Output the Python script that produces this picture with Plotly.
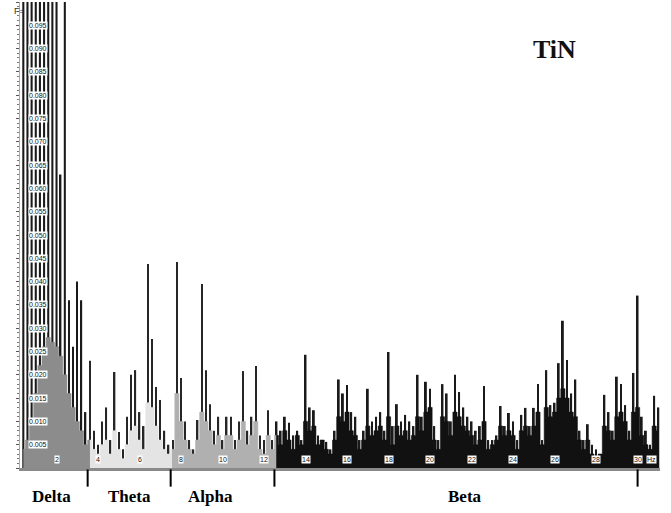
import plotly.graph_objects as go

# ---- data ----
freq_start = 0.4
freq_step = 0.2
peak_power = [
    0.15, 0.18, 0.16, 0.20, 0.17, 0.14, 0.12, 0.11, 0.13, 0.063,
    0.105, 0.036, 0.026, 0.040, 0.036, 0.012, 0.023, 0.008, 0.005, 0.010,
    0.013, 0.006, 0.0206, 0.0077, 0.004, 0.011, 0.020, 0.021, 0.012, 0.009,
    0.0438, 0.0277, 0.0174, 0.0146, 0.008, 0.005, 0.006, 0.0442, 0.0193, 0.010,
    0.006, 0.004, 0.0103, 0.0395, 0.021, 0.0137, 0.008, 0.011, 0.006, 0.011,
    0.011, 0.006, 0.010, 0.0208, 0.008, 0.011, 0.0219, 0.007, 0.006, 0.0124,
    0.006, 0.010, 0.008, 0.011, 0.0097, 0.007, 0.008, 0.006, 0.0243, 0.013,
    0.0124, 0.007, 0.006, 0.0056, 0.004, 0.008, 0.019, 0.016, 0.0178, 0.012,
    0.011, 0.006, 0.008, 0.017, 0.010, 0.011, 0.012, 0.008, 0.0249, 0.009,
    0.0137, 0.010, 0.0114, 0.010, 0.009, 0.020, 0.011, 0.0185, 0.017, 0.009,
    0.006, 0.018, 0.016, 0.010, 0.020, 0.0163, 0.013, 0.011, 0.010, 0.008,
    0.009, 0.0176, 0.006, 0.006, 0.007, 0.0133, 0.009, 0.0118, 0.010, 0.006,
    0.0114, 0.0129, 0.009, 0.0129, 0.018, 0.006, 0.021, 0.0135, 0.014, 0.0225,
    0.0316, 0.0232, 0.016, 0.019, 0.008, 0.006, 0.0094, 0.005, 0.004, 0.003,
    0.0157, 0.012, 0.008, 0.0196, 0.018, 0.0135, 0.008, 0.0204, 0.037, 0.011,
    0.008, 0.005, 0.0155, 0.013,
]
body_power = [
    0.004, 0.006, 0.010, 0.016, 0.022, 0.026, 0.028, 0.027, 0.026, 0.024,
    0.020, 0.016, 0.013, 0.010, 0.008, 0.005, 0.006, 0.004, 0.003, 0.005,
    0.006, 0.003, 0.008, 0.004, 0.002, 0.005, 0.008, 0.009, 0.006, 0.004,
    0.014, 0.013, 0.009, 0.006, 0.004, 0.003, 0.004, 0.016, 0.010, 0.006,
    0.004, 0.003, 0.006, 0.012, 0.010, 0.008, 0.005, 0.007, 0.004, 0.007,
    0.007, 0.004, 0.006, 0.010, 0.005, 0.007, 0.010, 0.004, 0.003, 0.007,
    0.004, 0.007, 0.005, 0.008, 0.006, 0.004, 0.007, 0.005, 0.010, 0.008,
    0.009, 0.005, 0.006, 0.004, 0.003, 0.006, 0.011, 0.010, 0.012, 0.008,
    0.007, 0.004, 0.006, 0.009, 0.007, 0.008, 0.009, 0.006, 0.011, 0.005,
    0.009, 0.007, 0.008, 0.006, 0.007, 0.011, 0.008, 0.012, 0.013, 0.006,
    0.004, 0.011, 0.010, 0.007, 0.012, 0.011, 0.009, 0.008, 0.007, 0.005,
    0.006, 0.010, 0.004, 0.005, 0.006, 0.009, 0.007, 0.008, 0.007, 0.004,
    0.008, 0.009, 0.007, 0.009, 0.012, 0.005, 0.013, 0.011, 0.012, 0.015,
    0.017, 0.015, 0.012, 0.011, 0.006, 0.004, 0.006, 0.003, 0.002, 0.003,
    0.009, 0.008, 0.006, 0.011, 0.012, 0.010, 0.006, 0.012, 0.013, 0.007,
    0.005, 0.004, 0.009, 0.008,
]
freqs = [round(freq_start + freq_step * i, 2) for i in range(len(peak_power))]

band_names = ["Delta", "Theta", "Alpha", "Beta"]
band_edges = [0.0, 3.5, 7.5, 12.5, 30.0]
band_label_x = [1.75, 5.5, 9.4, 21.7]
band_fill = ["#8c8c8c", "#e4e4e4", "#b0b0b0", "#111111"]
band_bar = ["#1a1a1a", "#262626", "#262626", "#1a1a1a"]

x_tick_vals = [2, 4, 6, 8, 10, 12, 14, 16, 18, 20, 22, 24, 26, 28, 30]
y_tick_vals = [round(0.005 * k, 3) for k in range(1, 20)]
title_text = "TiN"


def band_of(f):
    for b in range(len(band_names)):
        if f < band_edges[b + 1] or b == len(band_names) - 1:
            return b
    return len(band_names) - 1


fig = go.Figure()

# filled body per band
for b in range(len(band_names)):
    idx = [i for i, f in enumerate(freqs) if band_of(f) == b]
    if not idx:
        continue
    if idx[-1] + 1 < len(freqs):
        idx = idx + [idx[-1] + 1]
    fig.add_trace(go.Scatter(
        x=[freqs[i] for i in idx], y=[body_power[i] for i in idx],
        mode="lines", fill="tozeroy", fillcolor=band_fill[b],
        line=dict(color=band_fill[b], width=0.6, shape="hvh"), hoverinfo="skip",
        showlegend=False))

# spikes
widths = [0.1 if p > 0.1 else (0.09 if band_of(f) == 3 else 0.07)
          for f, p in zip(freqs, peak_power)]
colors = [band_bar[band_of(f)] for f in freqs]
fig.add_trace(go.Bar(x=freqs, y=peak_power, width=widths,
                     marker=dict(color=colors, line=dict(width=0)),
                     showlegend=False))

small_font = dict(size=7, family="Liberation Sans", color="#111")
annotations = []
for v in y_tick_vals:
    annotations.append(dict(x=0.028, xref="paper", y=v, yref="y",
                            text=f"{v:.3f}", showarrow=False, bgcolor="white",
                            font=small_font, borderpad=0,
                            xanchor="center", yanchor="middle"))
for v in x_tick_vals:
    annotations.append(dict(x=v, xref="x", y=0.018, yref="paper",
                            text=str(v), showarrow=False, bgcolor="white",
                            font=small_font, borderpad=0,
                            xanchor="center", yanchor="middle"))
annotations.append(dict(x=30.65, xref="x", y=0.018, yref="paper", text="Hz",
                        showarrow=False, bgcolor="white", font=small_font,
                        borderpad=0, xanchor="center", yanchor="middle"))
annotations.append(dict(x=-0.012, xref="paper", y=0.98, yref="paper", text="F=",
                        showarrow=False,
                        font=dict(size=9, family="Liberation Sans", color="#333"),
                        xanchor="left", yanchor="middle"))
for name, lx in zip(band_names, band_label_x):
    annotations.append(dict(x=lx, xref="x", y=-0.062, yref="paper", text=name,
                            showarrow=False, xanchor="center", yanchor="middle",
                            font=dict(size=17, family="Liberation Serif", color="black",
                                      weight="bold")))
annotations.append(dict(x=0.835, xref="paper", y=0.897, yref="paper", text=title_text,
                        showarrow=False, xanchor="center", yanchor="middle",
                        font=dict(size=26, family="Liberation Serif", color="#111",
                                  weight="bold")))

shapes = []
for e in band_edges[1:]:
    shapes.append(dict(type="line", xref="x", yref="paper", x0=e, x1=e,
                       y0=-0.003, y1=-0.04, line=dict(color="black", width=2)))

fig.update_layout(
    width=671, height=513,
    margin=dict(l=20, r=11, t=2, b=45),
    paper_bgcolor="white", plot_bgcolor="white",
    barmode="overlay",
    annotations=annotations, shapes=shapes,
    xaxis=dict(range=[0.24, 31.08], showgrid=False, zeroline=False,
               showticklabels=False, showline=True, linecolor="#8a8a8a",
               linewidth=3, ticks=""),
    yaxis=dict(range=[0, 0.1], showgrid=False, zeroline=False,
               showticklabels=False, showline=True, linecolor="#aaaaaa",
               linewidth=1, ticks="outside", ticklen=3, tickcolor="#555",
               dtick=0.005,
               minor=dict(dtick=0.001, ticks="outside", ticklen=2, tickcolor="#777")),
)

fig.write_html("out.html")
